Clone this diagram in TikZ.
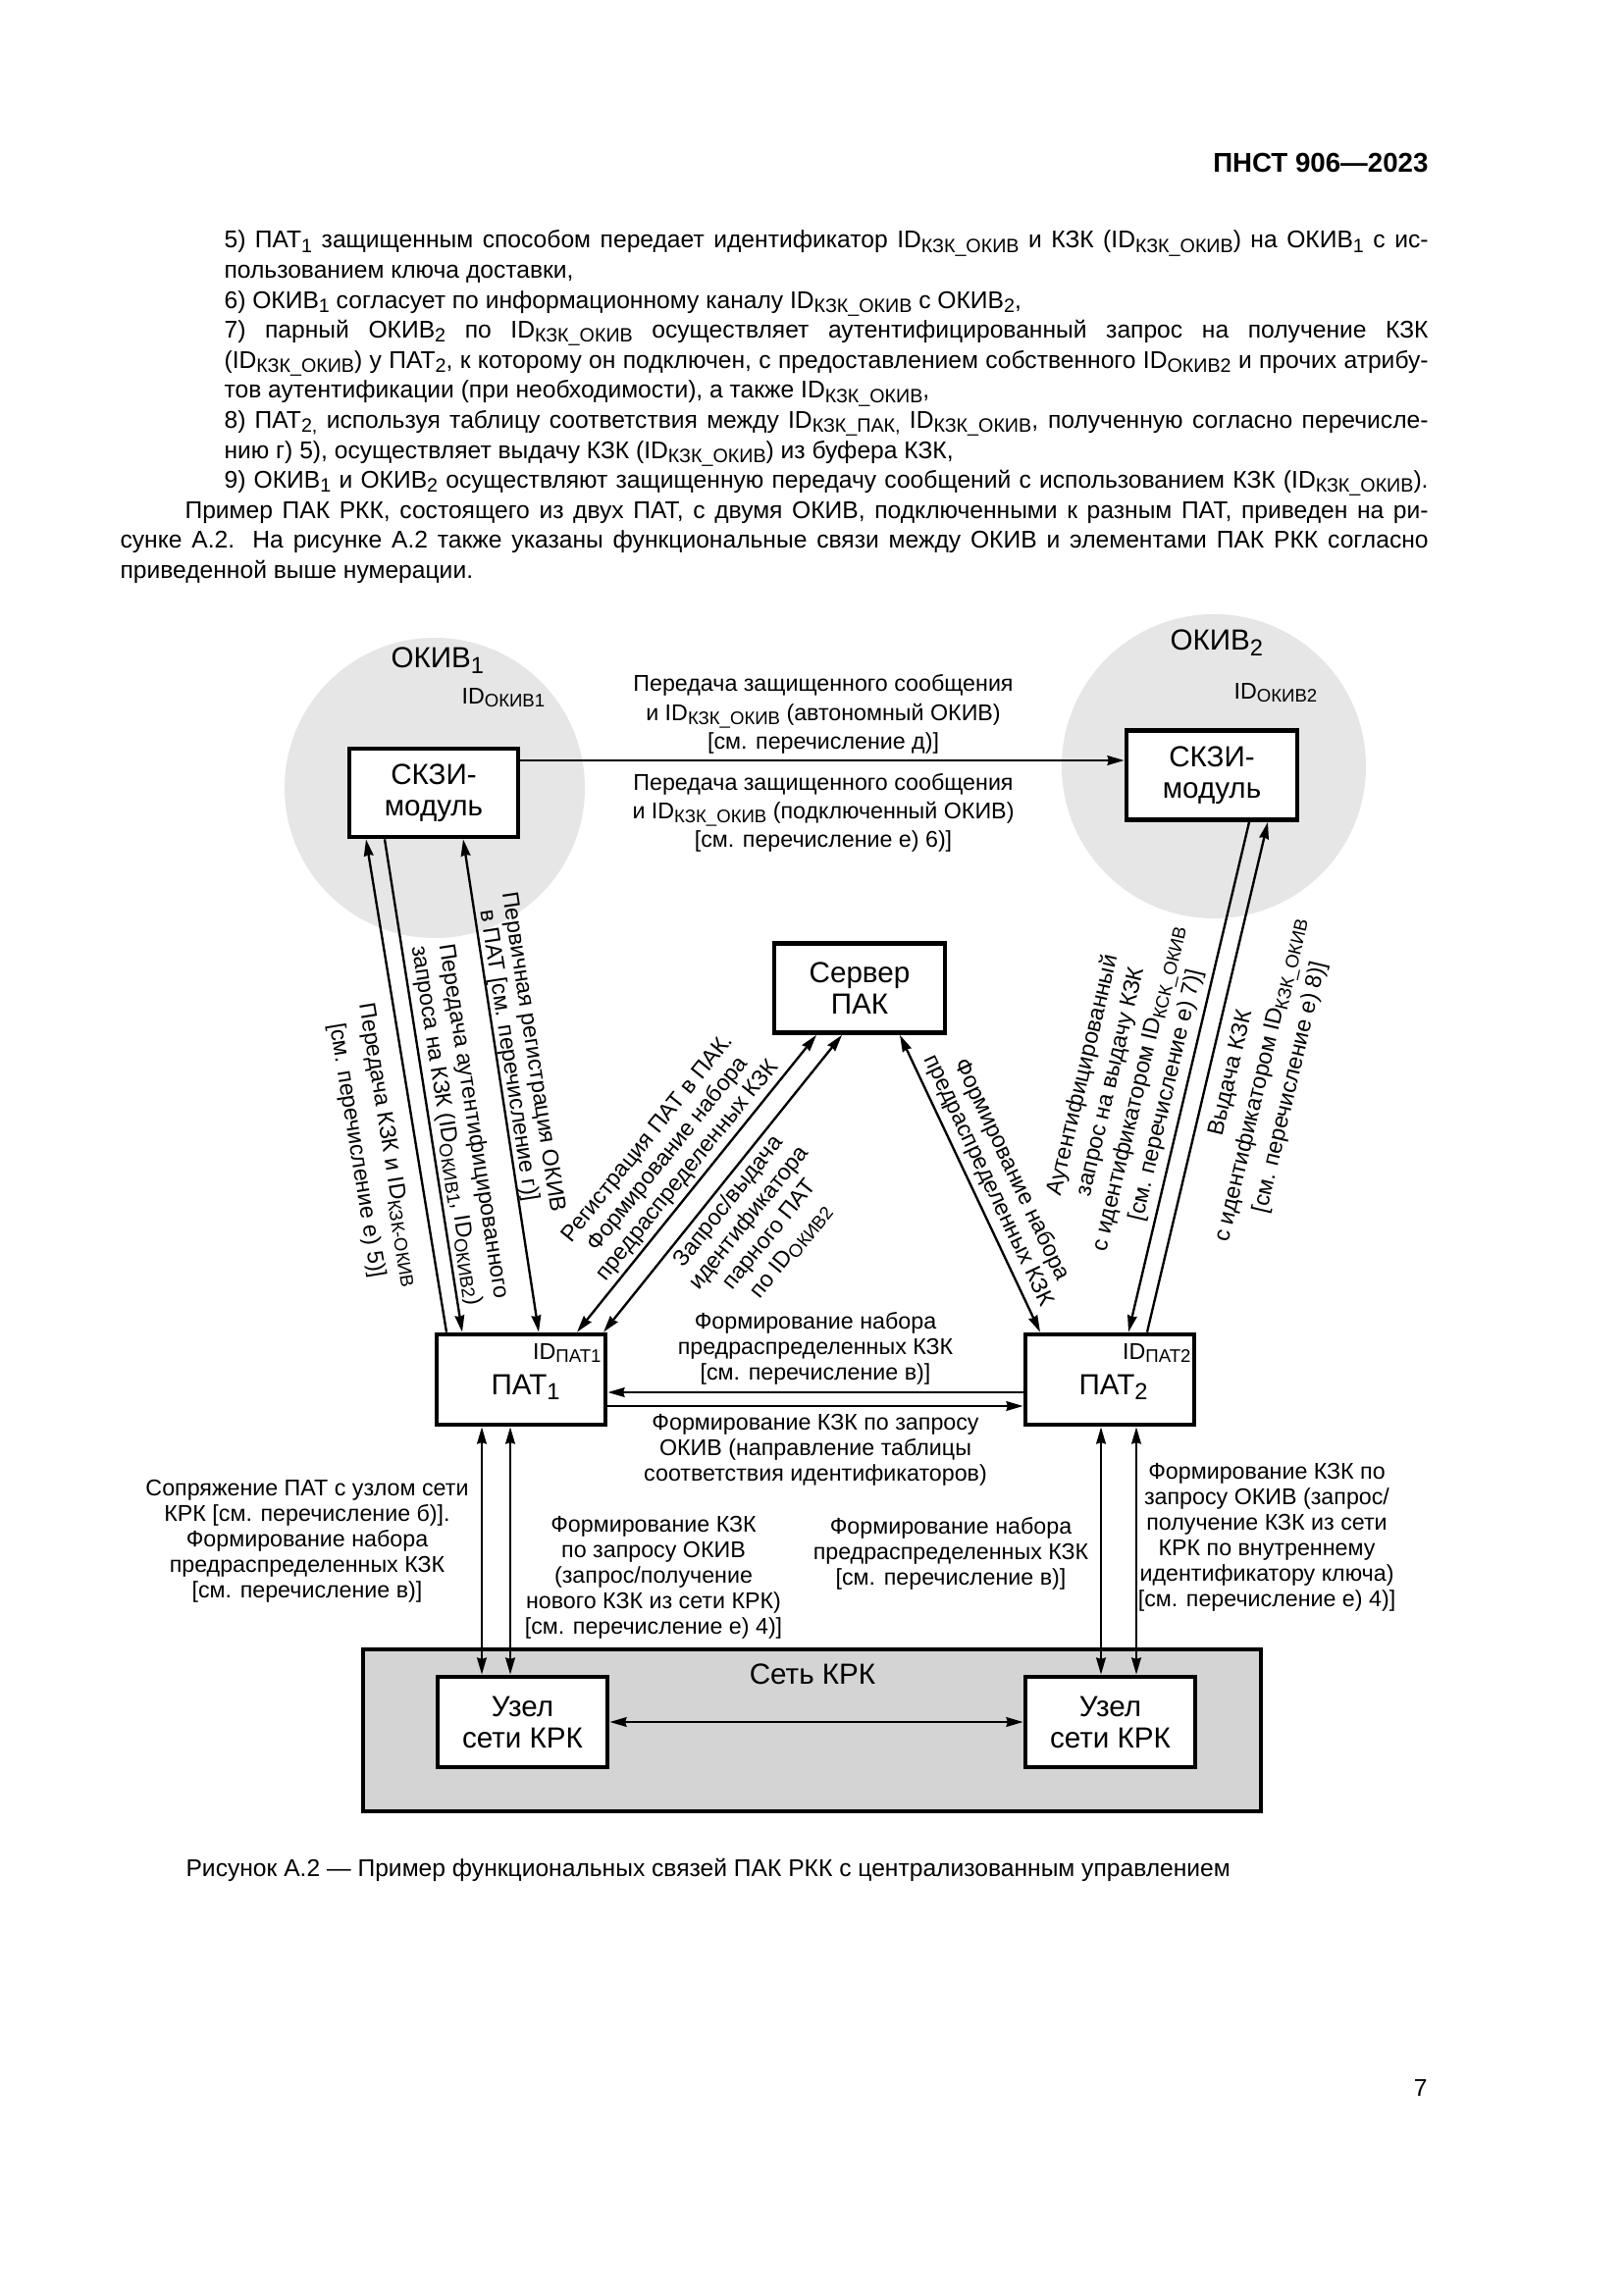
\documentclass[tikz,border=0pt]{standalone}
\usepackage{fontspec}
\setmainfont{Liberation Sans}
\usetikzlibrary{arrows.meta}
\newdimen\px \px=0.36135pt
\makeatletter
\newcommand\ssub[1]{\begingroup\@tempdima=\f@size pt\@tempdima=0.8\@tempdima
  \raisebox{-0.32ex}{\fontsize{\strip@pt\@tempdima}{0}\selectfont #1}\endgroup}
\makeatother
\newcommand\bodyf{\fontsize{8.9}{11}\selectfont}
\newcommand\headf{\fontsize{10}{12}\selectfont\bfseries}
\newcommand\boxf{\fontsize{10.7}{11.6}\selectfont}
\newcommand\lblf{\fontsize{8.4}{9.4}\selectfont}
\definecolor{blobgray}{RGB}{230,230,230}
\definecolor{netgray}{RGB}{212,212,212}
\begin{document}
\begin{tikzpicture}[x=0.36135pt,y=-0.36135pt,
  blk/.style={draw, line width=1.7pt, fill=white, inner sep=0pt, align=center, font=\boxf},
  lbl/.style={inner sep=0pt, align=center, font=\lblf},
  txt/.style={inner sep=0pt, anchor=base west, font=\bodyf},
  conn/.style={line width=0.85pt, -{Stealth[length=6.2pt,width=3.5pt,inset=0.5pt]}},
  conn2/.style={line width=0.85pt, {Stealth[length=6.2pt,width=3.5pt,inset=0.5pt]}-{Stealth[length=6.2pt,width=3.5pt,inset=0.5pt]}}]
\fill[white] (0,0) rectangle (1654,2339);
\useasboundingbox (0,0) rectangle (1654,2339);

% header
\node[inner sep=0pt, anchor=base east, font=\headf] (hdr) at (1456,176) {ПНСТ 906—2023};

% body text
\node[txt] (t1) at (228,253) {\makebox[1227\px][s]{5) ПАТ\ssub{1} защищенным способом передает идентификатор ID\ssub{КЗК\_ОКИВ} и КЗК (ID\ssub{КЗК\_ОКИВ}) на ОКИВ\ssub{1} с ис-}};
\node[txt] (t2) at (228,283.6) {пользованием ключа доставки,};
\node[txt] (t3) at (228,314.2) {6) ОКИВ\ssub{1} согласует по информационному каналу ID\ssub{КЗК\_ОКИВ} с ОКИВ\ssub{2},};
\node[txt] (t4) at (228,344.8) {\makebox[1227\px][s]{7) парный ОКИВ\ssub{2} по ID\ssub{КЗК\_ОКИВ} осуществляет аутентифицированный запрос на получение КЗК}};
\node[txt] (t5) at (228,375.4) {\makebox[1227\px][s]{(ID\ssub{КЗК\_ОКИВ}) у ПАТ\ssub{2}, к которому он подключен, с предоставлением собственного ID\ssub{ОКИВ2} и прочих атрибу-}};
\node[txt] (t6) at (228,406) {тов аутентификации (при необходимости), а также ID\ssub{КЗК\_ОКИВ},};
\node[txt] (t7) at (228,436.6) {\makebox[1227\px][s]{8) ПАТ\ssub{2,} используя таблицу соответствия между ID\ssub{КЗК\_ПАК,} ID\ssub{КЗК\_ОКИВ}, полученную согласно перечисле-}};
\node[txt] (t8) at (228,467.2) {нию г) 5), осуществляет выдачу КЗК (ID\ssub{КЗК\_ОКИВ}) из буфера КЗК,};
\node[txt] (t9) at (228,497.8) {\makebox[1227\px][s]{9) ОКИВ\ssub{1} и ОКИВ\ssub{2} осуществляют защищенную передачу сообщений с использованием КЗК (ID\ssub{КЗК\_ОКИВ}).}};
\node[txt] (t10) at (188,528.4) {\makebox[1267\px][s]{Пример ПАК РКК, состоящего из двух ПАТ, с двумя ОКИВ, подключенными к разным ПАТ, приведен на ри-}};
\node[txt] (t11) at (122,559) {\makebox[1333\px][s]{сунке А.2. На рисунке А.2 также указаны функциональные связи между ОКИВ и элементами ПАК РКК согласно}};
\node[txt] (t12) at (122,589.6) {приведенной выше нумерации.};

% OKIV circles
\node[circle, fill=blobgray, inner sep=0pt, minimum size=306\px] (okiv1) at (443,803) {};
\node[circle, fill=blobgray, inner sep=0pt, minimum size=310\px] (okiv2) at (1237,781) {};
\node[inner sep=0pt, anchor=base west, font=\boxf] (ok1) at (398,681) {ОКИВ\ssub{1}};
\node[lbl, anchor=base west] (ok1id) at (470,717) {ID\ssub{ОКИВ1}};
\node[inner sep=0pt, anchor=base west, font=\boxf] (ok2) at (1192,663) {ОКИВ\ssub{2}};
\node[lbl, anchor=base west] (ok2id) at (1257,712) {ID\ssub{ОКИВ2}};

% network
\node[draw, line width=1.3pt, fill=netgray, inner sep=0pt, minimum width=915\px, minimum height=165\px] (net) at (827.5,1763.5) {};
\node[inner sep=0pt, font=\boxf] (netlbl) at (828,1706) {Сеть КРК};

% boxes
\node[blk, minimum width=172\px, minimum height=90\px] (skzi1) at (442,808) {СКЗИ-\\модуль};
\node[blk, minimum width=174\px, minimum height=91\px] (skzi2) at (1235,790) {СКЗИ-\\модуль};
\node[blk, minimum width=174\px, minimum height=91\px] (server) at (876,1007) {Сервер\\ПАК};
\node[blk, minimum width=172\px, minimum height=92\px] (pat1) at (531,1406) {};
\node[blk, minimum width=172\px, minimum height=92\px] (pat2) at (1131,1406) {};
\node[blk, minimum width=173\px, minimum height=92\px] (uzel1) at (532.5,1755) {Узел\\сети КРК};
\node[blk, minimum width=173\px, minimum height=92\px] (uzel2) at (1131.5,1755) {Узел\\сети КРК};

\node[inner sep=0pt, anchor=base west, font=\boxf] (pat1t) at (500,1421) {ПАТ\ssub{1}};
\node[lbl, anchor=base east] (pat1id) at (613,1385) {ID\ssub{ПАТ1}};
\node[inner sep=0pt, anchor=base west, font=\boxf] (pat2t) at (1099,1421) {ПАТ\ssub{2}};
\node[lbl, anchor=base east] (pat2id) at (1214,1385) {ID\ssub{ПАТ2}};

% connectors
\coordinate (h1) at ([yshift=33\px]skzi1.east);
\draw[conn] (h1) -- (h1 -| skzi2.west);

\draw[conn] ([xshift=-76\px]pat1.north) -- ([xshift=-69\px]skzi1.south);
\draw[conn] ([xshift=-50\px]skzi1.south) -- ([xshift=-60\px]pat1.north);
\draw[conn2] ([xshift=30\px]skzi1.south) -- ([xshift=18\px]pat1.north);

\draw[conn2] ([xshift=57\px]pat1.north) -- ([xshift=-44\px]server.south);
\draw[conn2] ([xshift=84\px]pat1.north) -- ([xshift=-18\px]server.south);
\draw[conn2] ([xshift=41\px]server.south) -- ([xshift=-71\px]pat2.north);

\draw[conn] ([xshift=38\px]skzi2.south) -- ([xshift=19\px]pat2.north);
\draw[conn] ([xshift=38\px]pat2.north) -- ([xshift=57\px]skzi2.south);

\coordinate (h2) at ([yshift=-13\px]pat2.west);
\draw[conn] (h2) -- (h2 -| pat1.east);
\coordinate (h3) at ([yshift=-27\px]pat1.east);
\draw[conn] (h3) -- (h3 -| pat2.west);

\coordinate (v1) at ([xshift=-40\px]pat1.south);
\draw[conn2] (v1) -- (v1 |- uzel1.north);
\coordinate (v2) at ([xshift=-11\px]pat1.south);
\draw[conn2] (v2) -- (v2 |- uzel1.north);
\coordinate (v3) at ([xshift=-9\px]pat2.south);
\draw[conn2] (v3) -- (v3 |- uzel2.north);
\coordinate (v4) at ([xshift=27\px]pat2.south);
\draw[conn2] (v4) -- (v4 |- uzel2.north);

\draw[conn2] (uzel1.east) -- (uzel2.west);

% top labels
\node[lbl, font={\fontsize{8.4}{10.6}\selectfont}] (m1) at (839,728) {Передача защищенного сообщения\\и ID\ssub{КЗК\_ОКИВ} (автономный ОКИВ)\\{}[см. перечисление д)]};
\node[lbl, font={\fontsize{8.4}{10.6}\selectfont}] (m2) at (839,828.5) {Передача защищенного сообщения\\и ID\ssub{КЗК\_ОКИВ} (подключенный ОКИВ)\\{}[см. перечисление е) 6)]};

% rotated labels
\node[lbl, rotate=-80.7, font={\fontsize{8.4}{11.9}\selectfont}] (r1) at (379,1170) {Передача КЗК и ID\ssub{КЗК-ОКИВ}\\{}[см. перечисление е) 5)]};
\node[lbl, rotate=-81.1, font={\fontsize{8.4}{10.1}\selectfont}] (r2) at (468,1145) {Передача аутентифицированного\\запроса на КЗК (ID\ssub{ОКИВ1}, ID\ssub{ОКИВ2})};
\node[lbl, rotate=-81.3, font={\fontsize{8.4}{9.0}\selectfont}] (r3) at (530,1074) {Первичная регистрация ОКИВ\\в ПАТ [см. перечисление г)]};
\node[lbl, rotate=51.2, font={\fontsize{8.4}{9.4}\selectfont}] (ra) at (681,1177) {Регистрация ПАТ в ПАК.\\Формирование набора\\предраспределенных КЗК};
\node[lbl, rotate=51.3, font={\fontsize{8.4}{9.76}\selectfont}] (rb) at (774,1250) {Запрос/выдача\\идентификатора\\парного ПАТ\\по ID\ssub{ОКИВ2}};
\node[lbl, rotate=-64.7, font={\fontsize{8.4}{9.4}\selectfont}] (rc) at (1019,1198) {Формирование набора\\предраспределенных КЗК};
\node[lbl, rotate=76.7, font={\fontsize{8.4}{10.5}\selectfont}] (rd) at (1146,1106) {Аутентифицированный\\запрос на выдачу КЗК\\с идентификатором ID\ssub{КСК\_ОКИВ}\\{}[см. перечисление е) 7)]};
\node[lbl, rotate=76.7, font={\fontsize{8.4}{11.2}\selectfont}] (re) at (1285,1101) {Выдача КЗК\\с идентификатором ID\ssub{КЗК\_ОКИВ}\\{}[см. перечисление е) 8)]};

% labels between PATs
\node[lbl] (lp1) at (831,1374) {Формирование набора\\предраспределенных КЗК\\{}[см. перечисление в)]};
\node[lbl] (lp2) at (831,1478) {Формирование КЗК по запросу\\ОКИВ (направление таблицы\\соответствия идентификаторов)};

% bottom labels
\node[lbl] (lb1) at (313,1571) {Сопряжение ПАТ с узлом сети\\КРК [см. перечисление б)].\\Формирование набора\\предраспределенных КЗК\\{}[см. перечисление в)]};
\node[lbl] (lb2) at (666,1608) {Формирование КЗК\\по запросу ОКИВ\\(запрос/получение\\нового КЗК из сети КРК)\\{}[см. перечисление е) 4)]};
\node[lbl] (lb3) at (969,1583) {Формирование набора\\предраспределенных КЗК\\{}[см. перечисление в)]};
\node[lbl] (lb4) at (1291,1567) {Формирование КЗК по\\запросу ОКИВ (запрос/\\получение КЗК из сети\\КРК по внутреннему\\идентификатору ключа)\\{}[см. перечисление е) 4)]};

% caption and page number
\node[txt] (cap) at (189,1912) {Рисунок А.2 — Пример функциональных связей ПАК РКК с централизованным управлением};
\node[inner sep=0pt, anchor=base east, font=\bodyf] (pg) at (1455,2136) {7};
\end{tikzpicture}
\end{document}
